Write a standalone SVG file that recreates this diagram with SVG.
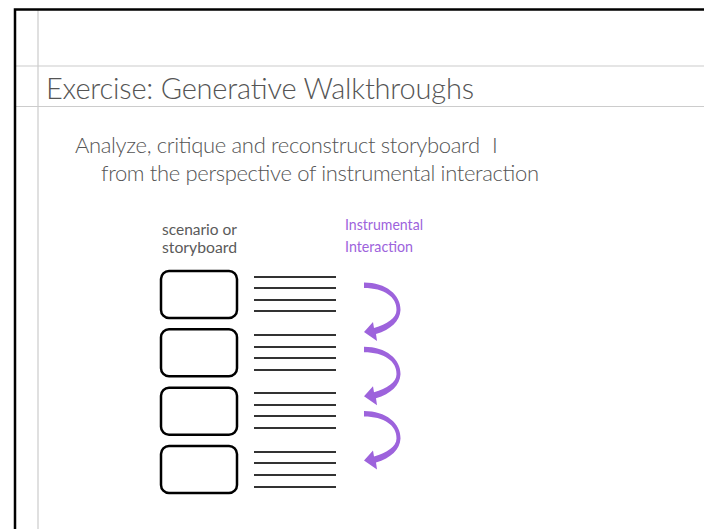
<svg xmlns="http://www.w3.org/2000/svg" width="704" height="529" viewBox="0 0 704 529">
<style>
.frame{stroke:#000;stroke-width:2.5;fill:none}
.guide{stroke:#cccccc;stroke-width:1.2;fill:none}
.title{font-family:Lato,"Open Sans",sans-serif;font-weight:300;font-size:29px;fill:#555}
.body{font-family:Lato,"Open Sans",sans-serif;font-weight:300;font-size:22px;fill:#555}
.lbl{font-family:Lato,"Open Sans",sans-serif;font-size:15.5px;fill:#5a5a5a}
.plbl{font-family:Lato,"Open Sans",sans-serif;font-size:15px;fill:#9d63dc}
.box{fill:#fff;stroke:#000;stroke-width:2.5}
.ln{stroke:#333;stroke-width:2;fill:none}
.curl{fill:#9d63dc}
</style>
<defs>
<path id="curl" class="curl" d="M364,282.5 C386,282.5 401,295 400.5,310 C400,321 391,329.5 376,334 L377,341 L364,332 L373,322 L374,328 C387,324 396.5,318 396.5,310 C397,297 384,288 364,288 Z"/>
</defs>
<rect width="704" height="529" fill="#fff"/>
<g id="background">
<line class="guide" x1="38" y1="9" x2="38" y2="529"/>
<line class="guide" x1="15" y1="66" x2="704" y2="66"/>
<line class="guide" x1="15" y1="106.5" x2="704" y2="106.5"/>
<polyline class="frame" points="15,529 15,9.5 704,9.5"/>
</g>
<g id="title"><text class="title" x="46" y="98.5" textLength="428">Exercise: Generative Walkthroughs</text></g>
<g id="bullet">
<text class="body" x="75" y="153"><tspan textLength="405">Analyze, critique and reconstruct storyboard</tspan> <tspan x="492">I</tspan></text>
<text class="body" x="101" y="181" textLength="438">from the perspective of instrumental interaction</text>
</g>
<g id="label-scenario">
<text class="lbl" x="162" y="235" textLength="75" lengthAdjust="spacingAndGlyphs">scenario or</text>
<text class="lbl" x="162" y="252.5" textLength="75" lengthAdjust="spacingAndGlyphs">storyboard</text>
</g>
<g id="label-instrumental">
<text class="plbl" x="345" y="230" textLength="78" lengthAdjust="spacingAndGlyphs">Instrumental</text>
<text class="plbl" x="345" y="251.5" textLength="68" lengthAdjust="spacingAndGlyphs">Interaction</text>
</g>
<g id="frame1"><rect class="box" x="161" y="271" width="76" height="47" rx="8"/><path class="ln" d="M254,277H336M254,288H336M254,300H336M254,311H336"/></g>
<g id="frame2"><rect class="box" x="161" y="329.3" width="76" height="47" rx="8"/><path class="ln" d="M254,335H336M254,347H336M254,358H336M254,370H336"/></g>
<g id="frame3"><rect class="box" x="161" y="387.7" width="76" height="47" rx="8"/><path class="ln" d="M254,393H336M254,405H336M254,416H336M254,428H336"/></g>
<g id="frame4"><rect class="box" x="161" y="446" width="76" height="47" rx="8"/><path class="ln" d="M254,452H336M254,463H336M254,475H336M254,487H336"/></g>
<g id="connectors">
<use href="#curl"/>
<use href="#curl" y="64.3"/>
<use href="#curl" y="128.6"/>
</g>
</svg>
